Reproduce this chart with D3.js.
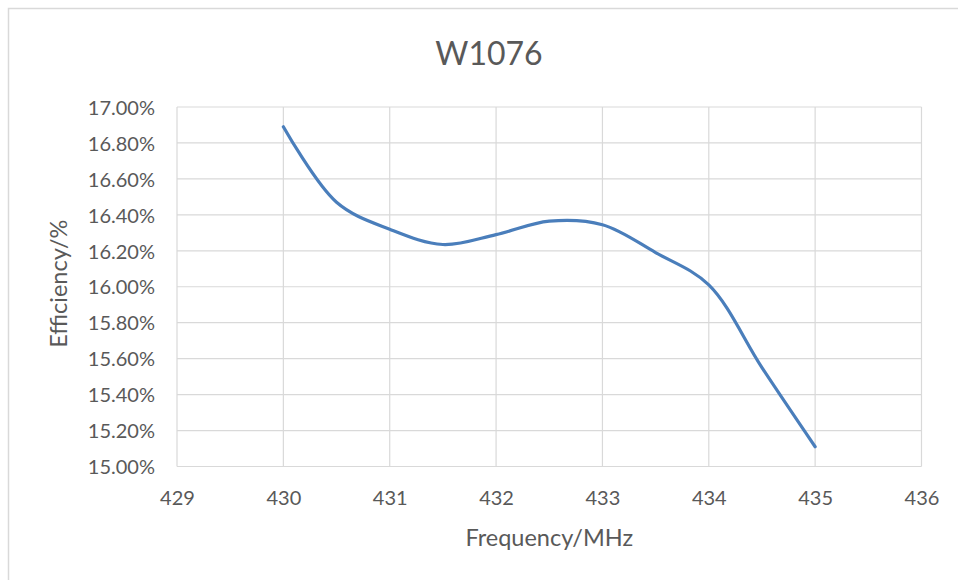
<!DOCTYPE html>
<html lang="en">
<head>
<meta charset="utf-8">
<title>W1076</title>
<script src="https://cdnjs.cloudflare.com/ajax/libs/d3/7.7.0/d3.min.js"></script>
<style>
  body { margin: 0; background: #fff; }
  svg text { font-family: Lato, "Open Sans", sans-serif; fill: #595959; }
</style>
</head>
<body>
<div id="chart"></div>
<script>
// data (frequency in MHz, efficiency as a fraction)
const frequency = [430, 430.5, 431, 431.5, 432, 432.5, 433, 433.5, 434, 434.5, 435];
const efficiency = [0.1689, 0.1647, 0.1632, 0.16235, 0.1629, 0.16365, 0.16345, 0.1619, 0.1601, 0.1555, 0.1511];
const xTicks = [429, 430, 431, 432, 433, 434, 435, 436];
const yTicks = [0.15, 0.152, 0.154, 0.156, 0.158, 0.16, 0.162, 0.164, 0.166, 0.168, 0.17];

const w = 958, h = 580;
const plotLeft = 177, plotRight = 921.5, plotTop = 107, plotBottom = 466.5;

const svg = d3.select("#chart").append("svg")
  .attr("width", w).attr("height", h);

// chart border (runs past the right/bottom edge like the reference)
svg.append("rect")
  .attr("x", 8.5).attr("y", 8.5)
  .attr("width", w + 10).attr("height", h + 10)
  .attr("fill", "none").attr("stroke", "#d9d9d9").attr("stroke-width", 1.5);

const x = d3.scaleLinear().domain([429, 436]).range([plotLeft, plotRight]);
const y = d3.scaleLinear().domain([0.15, 0.17]).range([plotBottom, plotTop]);

// grid
svg.append("g")
  .selectAll("line")
  .data(yTicks)
  .enter().append("line")
  .attr("x1", plotLeft).attr("x2", plotRight)
  .attr("y1", d => y(d)).attr("y2", d => y(d))
  .attr("stroke", "#d9d9d9").attr("stroke-width", 1.2);

svg.append("g")
  .selectAll("line")
  .data(xTicks)
  .enter().append("line")
  .attr("x1", d => x(d)).attr("x2", d => x(d))
  .attr("y1", plotTop).attr("y2", plotBottom)
  .attr("stroke", "#d9d9d9").attr("stroke-width", 1.2);

// axes (labels only, lines come from the grid)
const yAxis = d3.axisLeft(y).tickValues(yTicks)
  .tickFormat(d3.format(".2%")).tickSize(0).tickPadding(22);
svg.append("g")
  .attr("transform", "translate(" + plotLeft + ",0)")
  .call(yAxis)
  .call(g => g.select(".domain").remove())
  .selectAll("text")
  .style("font-size", "20px")
  .attr("dy", "0.36em");

const xAxis = d3.axisBottom(x).tickValues(xTicks)
  .tickFormat(d3.format("d")).tickSize(0).tickPadding(24);
svg.append("g")
  .attr("transform", "translate(0," + plotBottom + ")")
  .call(xAxis)
  .call(g => g.select(".domain").remove())
  .selectAll("text")
  .style("font-size", "20px");

// series
const line = d3.line()
  .x((d, i) => x(frequency[i]))
  .y(d => y(d))
  .curve(d3.curveCatmullRom.alpha(0.5));

svg.append("path")
  .datum(efficiency)
  .attr("d", line)
  .attr("fill", "none")
  .attr("stroke", "#4a7ebb")
  .attr("stroke-width", 3.2)
  .attr("stroke-linecap", "round");

// titles
svg.append("text")
  .attr("x", 489).attr("y", 65)
  .attr("text-anchor", "middle")
  .style("font-size", "32px")
  .text("W1076");

svg.append("text")
  .attr("x", (plotLeft + plotRight) / 2).attr("y", 546)
  .attr("text-anchor", "middle")
  .style("font-size", "23.5px")
  .text("Frequency/MHz");

svg.append("text")
  .attr("transform", "translate(67," + ((plotTop + plotBottom) / 2 - 3) + ") rotate(-90)")
  .attr("text-anchor", "middle")
  .style("font-size", "23.5px")
  .text("Efficiency/%");
</script>
</body>
</html>
